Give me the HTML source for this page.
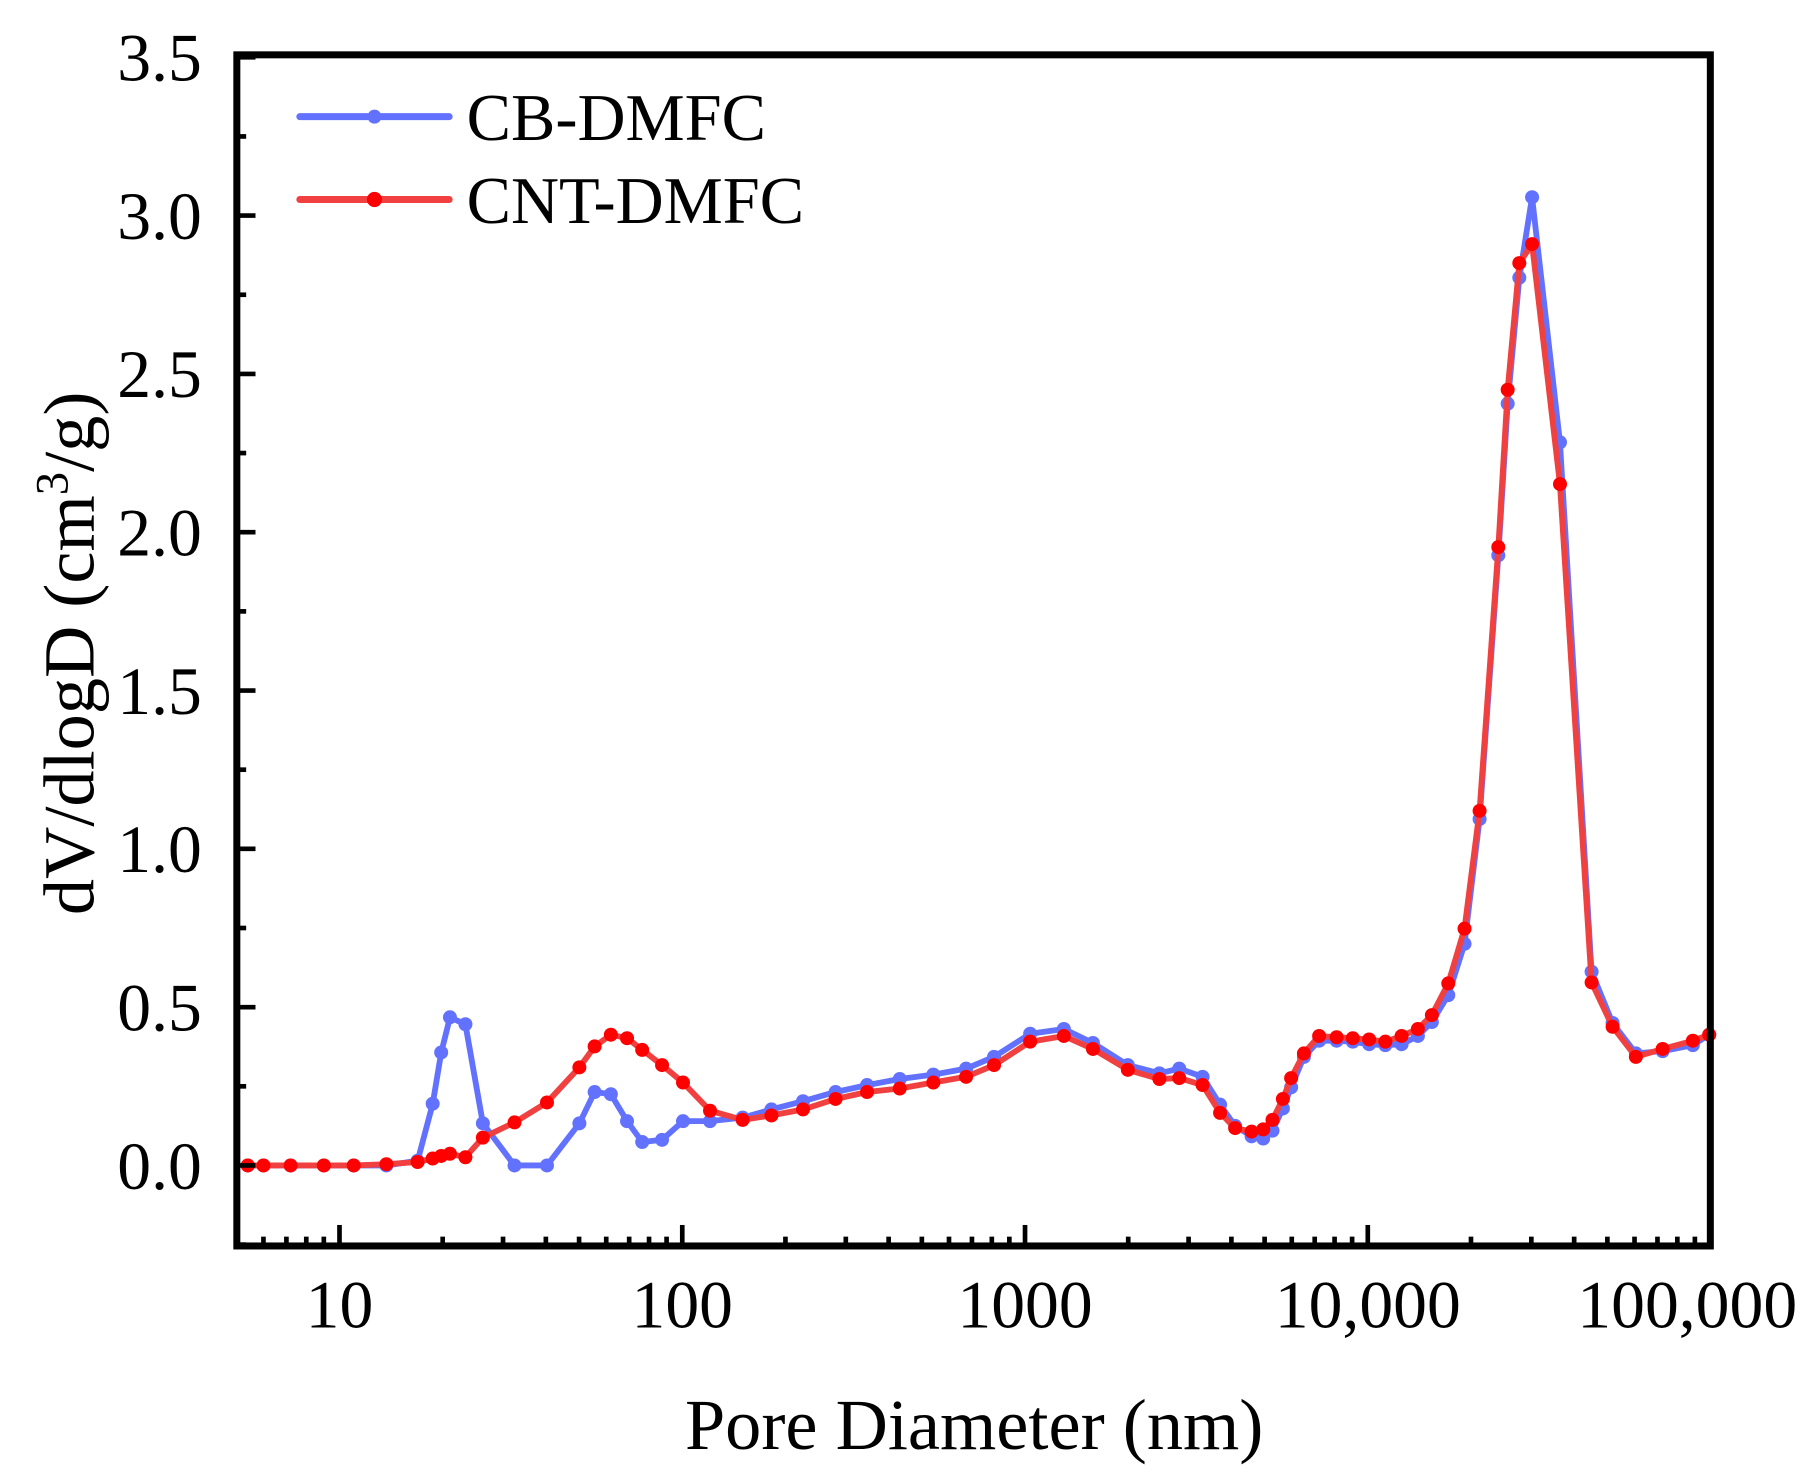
<!DOCTYPE html>
<html><head><meta charset="utf-8"><style>
html,body{margin:0;padding:0;background:#fff;}
svg{display:block;}
text{font-family:"Liberation Serif",serif;fill:#000;}
</style></head><body>
<svg id="chart" width="1820" height="1473" viewBox="0 0 1560 1262.6" preserveAspectRatio="none" xmlns="http://www.w3.org/2000/svg">
<g id="grid"></g>
<g id="series"></g>
<g id="axes"></g>
</svg>
<script>
const xCats=[5.4,6.0,7.2,9.0,11.0,13.7,16.9,18.7,19.8,21.0,23.3,26.2,32.4,40.3,50.1,55.5,61.9,69.0,76.4,87.3,100.5,120.5,150,182,225,280,346,431,540,673,812,1035,1298,1578,1995,2466,2818,3296,3707,4102,4581,4953,5272,5653,5975,6511,7211,8110,9040,10090,11250,12550,14000,15380,17170,19150,21190,24030,25590,27670,30150,36370,44970,51780,60540,72460,88790,99100];
const cbValues=[0,0,0,0,0,0,0.015,0.195,0.357,0.468,0.446,0.133,0,0,0.133,0.232,0.225,0.14,0.074,0.081,0.14,0.14,0.151,0.177,0.203,0.232,0.254,0.273,0.287,0.306,0.343,0.416,0.431,0.387,0.317,0.291,0.306,0.28,0.192,0.125,0.092,0.085,0.11,0.18,0.247,0.343,0.394,0.394,0.391,0.383,0.38,0.383,0.409,0.453,0.538,0.7,1.094,1.927,2.406,2.804,3.058,2.284,0.612,0.45,0.354,0.361,0.38,0.413];
const cntValues=[0,0,0,0,0,0.004,0.011,0.022,0.03,0.037,0.026,0.088,0.136,0.199,0.31,0.376,0.413,0.402,0.365,0.317,0.262,0.173,0.144,0.158,0.177,0.21,0.232,0.243,0.262,0.28,0.317,0.391,0.409,0.368,0.302,0.273,0.276,0.254,0.166,0.118,0.107,0.114,0.144,0.21,0.276,0.354,0.409,0.405,0.402,0.398,0.391,0.409,0.431,0.475,0.575,0.748,1.12,1.953,2.45,2.85,2.91,2.152,0.578,0.438,0.343,0.368,0.394,0.413];
const yTicks=[0,0.5,1.0,1.5,2.0,2.5,3.0,3.5];
const yTickLabels=["0.0","0.5","1.0","1.5","2.0","2.5","3.0","3.5"];
const xTicks=[10,100,1000,10000,100000];
const xTickLabels=["10","100","1000","10,000","100,000"];

const NS="http://www.w3.org/2000/svg";
const L=203,R=1466,T=47,B=1068;
const X=v=>291+(Math.log10(v)-1)*293.8;
const Y=v=>999-v*271.4;
function mk(tag,attrs,parent){const e=document.createElementNS(NS,tag);for(const k in attrs)e.setAttribute(k,attrs[k]);parent.appendChild(e);return e;}
const ser=document.getElementById('series'), ax=document.getElementById('axes');

function drawSeries(vals,lineCol,dotCol,name){
  const g=mk('g',{},ser);
  
  
  const pts=xCats.map((x,i)=>X(x).toFixed(1)+','+Y(vals[i]).toFixed(1)).join(' ');
  const pl=mk('polyline',{points:pts,fill:'none',stroke:lineCol,'stroke-width':5,'stroke-linejoin':'round'},g);
  
  
  xCats.forEach((x,i)=>{
    const c=mk('circle',{cx:X(x),cy:Y(vals[i]),r:6,fill:dotCol},g);
    
    
  });
}
drawSeries(cbValues,'#6272ff','#6272ff','cb-dmfc');
drawSeries(cntValues,'#f04040','#ff0000','cnt-dmfc');

const fr=mk('rect',{x:L,y:T,width:R-L,height:B-T,fill:'none',stroke:'#000','stroke-width':6},ax);


for(let v=-0.25;v<=3.5;v+=0.25){
  const major=Math.abs(v*2-Math.round(v*2))<1e-6;
  const t=mk('line',{x1:L,x2:L+(major?16:8),y1:Y(v),y2:Y(v),stroke:'#000','stroke-width':4},ax);
  
  
}
yTicks.forEach((v,i)=>{
  const t=mk('text',{x:L-30,y:Y(v)+20,'font-size':58,'text-anchor':'end'},ax);
  t.textContent=yTickLabels[i];
  
  
});
for(let d=0;d<=5;d++){
  for(let m=1;m<10;m++){
    const v=m*Math.pow(10,d);
    if(v<5.05||v>100000)continue;
    const x=X(v);
    const t=mk('line',{x1:x,x2:x,y1:B,y2:B-(m===1?18:8),stroke:'#000','stroke-width':4},ax);
    
    
  }
}
xTicks.forEach((v,i)=>{
  const t=mk('text',{x:X(v)-(i===4?20:0),y:1138,'font-size':58,'text-anchor':'middle'},ax);
  t.textContent=xTickLabels[i];
  
  
});
</script>
<svg style="position:absolute;left:0;top:0" width="1820" height="1473" viewBox="0 0 1560 1262.6" preserveAspectRatio="none" xmlns="http://www.w3.org/2000/svg">
<text x="835" y="1242" font-size="62" text-anchor="middle">Pore Diameter (nm)</text>
<text transform="translate(80,560) rotate(-90)" font-size="62" text-anchor="middle">dV/dlogD (cm<tspan font-size="40" dy="-22">3</tspan><tspan dy="22">/g)</tspan></text>
<g>
<g>
<line x1="257" x2="385" y1="100" y2="100" stroke="#6272ff" stroke-width="6" stroke-linecap="round"/>
<circle cx="321" cy="100" r="6" fill="#6272ff"/>
<text x="400" y="120" font-size="57">CB-DMFC</text>
</g>
<g>
<line x1="257" x2="385" y1="171" y2="171" stroke="#f04040" stroke-width="6" stroke-linecap="round"/>
<circle cx="321" cy="171" r="6.5" fill="#ff0000"/>
<text x="400" y="191" font-size="57">CNT-DMFC</text>
</g>
</g>
</svg>
</body></html>
